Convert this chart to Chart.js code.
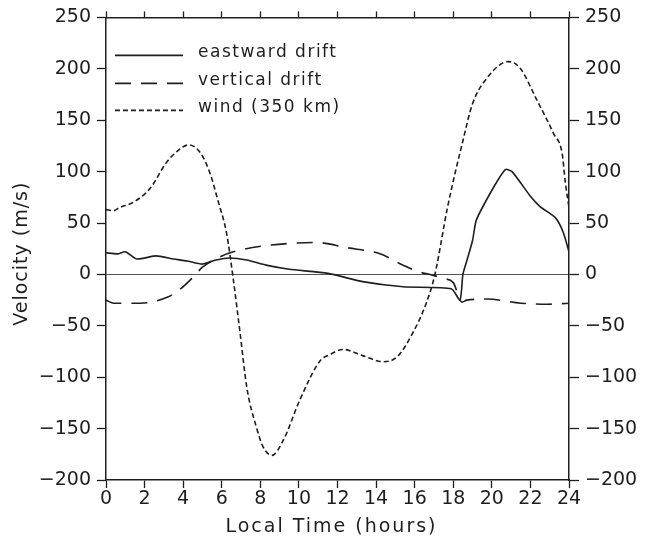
<!DOCTYPE html>
<html>
<head>
<meta charset="utf-8">
<script src="https://cdn.jsdelivr.net/npm/chart.js@4.4.1/dist/chart.umd.min.js"></script>
<style>
  html, body { margin: 0; padding: 0; background: #fff; }
  #wrap { width: 654px; height: 540px; }
</style>
</head>
<body>
<div id="wrap"><canvas id="chart"></canvas></div>
<script>
// values (local time in hours, velocity in m/s)
const eastTime = [0, 0.6, 1.0, 1.6, 2.6, 3.5, 4.2, 5.0, 5.7, 6.4, 7.3, 8.3, 9.5, 11.5, 13.3, 15.4, 17.9, 18.35, 18.5, 18.7, 19.0, 19.2, 20.1, 20.7, 21.05, 22.0, 22.5, 23.3, 23.7, 24];
const eastVel  = [21, 20, 22, 15, 18, 15, 13, 10, 14, 16, 14, 9, 5, 1, -7, -12, -14, -25, 0, 13, 33, 53, 85, 102, 100, 76, 66, 55, 41, 22];

const vertTime = [0, 0.4, 1.8, 3.2, 3.8, 4.5, 5.0, 5.9, 6.6, 8.3, 10.9, 12.5, 14.2, 15.4, 16.3, 16.8, 17.5, 18.0, 18.45, 18.7, 19.75, 21.5, 22.9, 24];
const vertVel  = [-25, -28, -28, -22, -15, -3, 7, 17, 22, 28, 31, 26, 20, 9, 2, 0, -4, -8, -27, -25, -24, -28, -29, -28];

const windTime = [0, 0.4, 0.7, 1.4, 2.3, 3.1, 3.7, 4.3, 4.9, 5.4, 5.8, 6.25, 6.6, 6.95, 7.3, 7.8, 8.15, 8.6, 9.2, 10.05, 11.1, 11.6, 12.3, 13.3, 14.4, 15.1, 15.9, 16.6, 17.05, 17.7, 18.5, 19.0, 19.75, 20.85, 21.45, 22.35, 23.2, 23.65, 23.8, 24];
const windVel  = [63, 62, 65, 70, 84, 108, 120, 126, 118, 98, 72, 40, -5, -57, -110, -149, -168, -176, -161, -122, -84, -78, -73, -79, -85, -80, -57, -28, 0, 65, 130, 166, 191, 207, 201, 169, 137, 117, 91, 65];

const seriesNames = ['eastward drift', 'vertical drift', 'wind (350 km)'];
const xTicks = [0, 2, 4, 6, 8, 10, 12, 14, 16, 18, 20, 22, 24];
const yTicks = [-200, -150, -100, -50, 0, 50, 100, 150, 200, 250];
const xTitle = 'Local Time (hours)';
const yTitle = 'Velocity (m/s)';

const ink = '#1e1e1e';
const FONT = '"DejaVu Sans", sans-serif';

function pts(t, v) {
  return t.map((x, i) => ({ x: x, y: v[i] }));
}

function minusLabel(v) {
  return v < 0 ? '\u2212' + Math.abs(v) : String(v);
}

// titles and the in-frame key, drawn on top
const extraText = {
  id: 'extraText',
  afterDraw(chart) {
    const ctx = chart.ctx;
    const a = chart.chartArea;
    ctx.save();
    ctx.fillStyle = ink;
    ctx.strokeStyle = ink;
    ctx.letterSpacing = '2px';
    ctx.font = '19px ' + FONT;
    ctx.textAlign = 'center';
    ctx.textBaseline = 'middle';
    ctx.fillText(xTitle, (a.left + a.right) / 2 - 6, chart.height - 13);

    ctx.save();
    ctx.letterSpacing = '1px';
    ctx.translate(22, (a.top + a.bottom) / 2 + 5);
    ctx.rotate(-Math.PI / 2);
    ctx.fillText(yTitle, 0, 0);
    ctx.restore();

    // key
    ctx.font = '17px ' + FONT;
    ctx.letterSpacing = '1.5px';
    ctx.textAlign = 'left';
    ctx.textBaseline = 'alphabetic';
    const baselines = [40, 68, 95];
    chart.data.datasets.forEach((ds, i) => {
      const yb = a.top + baselines[i];
      ctx.beginPath();
      ctx.lineWidth = ds.borderWidth;
      ctx.setLineDash(ds.borderDash || []);
      ctx.moveTo(a.left + 9, yb - 2);
      ctx.lineTo(a.left + 77, yb - 2);
      ctx.stroke();
      ctx.setLineDash([]);
      ctx.fillText(ds.label, a.left + 92, yb);
    });
    ctx.restore();
  }
};

const tickFont = { family: FONT, size: 19 };

new Chart(document.getElementById('chart'), {
  type: 'line',
  data: {
    datasets: [
      {
        label: seriesNames[0],
        data: pts(eastTime, eastVel),
        borderColor: ink,
        borderWidth: 1.6,
        pointRadius: 0,
        tension: 0.2
      },
      {
        label: seriesNames[1],
        data: pts(vertTime, vertVel),
        borderColor: ink,
        borderWidth: 1.6,
        borderDash: [16, 10],
        pointRadius: 0,
        cubicInterpolationMode: 'monotone'
      },
      {
        label: seriesNames[2],
        data: pts(windTime, windVel),
        borderColor: ink,
        borderWidth: 1.6,
        borderDash: [5, 3],
        pointRadius: 0,
        cubicInterpolationMode: 'monotone'
      }
    ]
  },
  options: {
    responsive: true,
    maintainAspectRatio: false,
    animation: false,
    layout: { padding: 0 },
    plugins: {
      legend: { display: false },
      tooltip: { enabled: false }
    },
    scales: {
      x: {
        type: 'linear',
        position: 'bottom',
        min: 0,
        max: 24,
        afterBuildTicks: s => { s.ticks = xTicks.map(v => ({ value: v })); },
        afterFit: s => { s.height = 60; },
        ticks: { color: ink, font: tickFont, padding: 0, maxRotation: 0, autoSkip: false },
        grid: { drawOnChartArea: false, tickLength: 8, tickColor: ink, tickWidth: 1.3 },
        border: { color: ink, width: 1.5 }
      },
      x2: {
        type: 'linear',
        position: 'top',
        min: 0,
        max: 24,
        afterBuildTicks: s => { s.ticks = xTicks.map(v => ({ value: v })); },
        afterFit: s => { s.height = 17; },
        ticks: { display: false },
        grid: { drawOnChartArea: false, tickLength: 6, tickColor: ink, tickWidth: 1.3 },
        border: { color: ink, width: 1.5 }
      },
      y: {
        type: 'linear',
        position: 'left',
        min: -200,
        max: 250,
        afterBuildTicks: s => { s.ticks = yTicks.map(v => ({ value: v })); },
        afterFit: s => { s.width = 106; },
        ticks: { color: ink, font: tickFont, padding: 6, callback: minusLabel },
        grid: {
          drawOnChartArea: true,
          color: c => (c.tick && c.tick.value === 0 ? '#555' : 'rgba(0,0,0,0)'),
          lineWidth: 1,
          tickLength: 9,
          tickColor: ink,
          tickWidth: 1.3
        },
        border: { color: ink, width: 1.5 }
      },
      y2: {
        type: 'linear',
        position: 'right',
        min: -200,
        max: 250,
        afterBuildTicks: s => { s.ticks = yTicks.map(v => ({ value: v })); },
        afterFit: s => { s.width = 85; },
        ticks: { color: ink, font: tickFont, padding: 6, callback: minusLabel },
        grid: { drawOnChartArea: false, tickLength: 10, tickColor: ink, tickWidth: 1.3 },
        border: { color: ink, width: 1.5 }
      }
    }
  },
  plugins: [extraText]
});
</script>
</body>
</html>
